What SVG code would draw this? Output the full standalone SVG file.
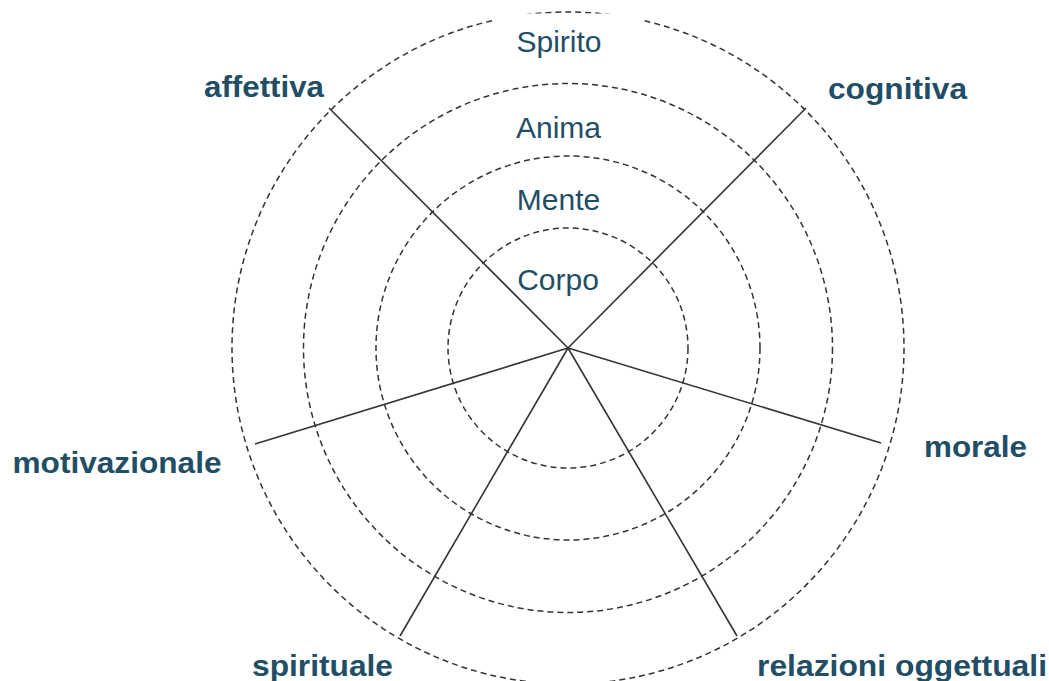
<svg xmlns="http://www.w3.org/2000/svg" width="1049" height="681" viewBox="0 0 1049 681">
<style>
.ring{fill:none;stroke:#333;stroke-width:1.5;stroke-dasharray:6 4}
.spoke{stroke:#333;stroke-width:1.6;fill:none}
.lvl{font-family:"Liberation Sans",Arial,sans-serif;font-size:30px;fill:#1f4e66;text-anchor:middle}
.dim{font-family:"Liberation Sans",Arial,sans-serif;font-size:30px;font-weight:bold;fill:#1f4e66}
</style>
<rect width="1049" height="681" fill="#fff"/>
<g id="rings">
<circle class="ring" cx="568" cy="348" r="120"/>
<circle class="ring" cx="568" cy="348" r="192"/>
<circle class="ring" cx="568" cy="348" r="264.5"/>
<circle class="ring" cx="568" cy="348" r="336"/>
</g>
<g id="connectors">
<line class="spoke" x1="568" y1="348" x2="806" y2="108"/>
<line class="spoke" x1="568" y1="348" x2="881" y2="443"/>
<line class="spoke" x1="568" y1="348" x2="737" y2="636"/>
<line class="spoke" x1="568" y1="348" x2="400" y2="636"/>
<line class="spoke" x1="568" y1="348" x2="255" y2="444"/>
<line class="spoke" x1="568" y1="348" x2="329" y2="108"/>
</g>
<g id="level-spirito">
<rect x="496" y="13.5" width="146" height="50" fill="#fff"/>
<text class="lvl" x="559" y="52">Spirito</text>
</g>
<g id="level-anima"><text class="lvl" x="558.5" y="138">Anima</text></g>
<g id="level-mente"><text class="lvl" x="558.5" y="210">Mente</text></g>
<g id="level-corpo"><text class="lvl" x="558" y="290">Corpo</text></g>
<g id="dim-affettiva"><text class="dim" x="204" y="97" textLength="120" lengthAdjust="spacingAndGlyphs">affettiva</text></g>
<g id="dim-cognitiva"><text class="dim" x="828" y="99" textLength="139" lengthAdjust="spacingAndGlyphs">cognitiva</text></g>
<g id="dim-motivazionale"><text class="dim" x="12.5" y="473" textLength="209" lengthAdjust="spacingAndGlyphs">motivazionale</text></g>
<g id="dim-morale"><text class="dim" x="924" y="457" textLength="103" lengthAdjust="spacingAndGlyphs">morale</text></g>
<g id="dim-spirituale"><text class="dim" x="252" y="676" textLength="141" lengthAdjust="spacingAndGlyphs">spirituale</text></g>
<g id="dim-relazioni"><text class="dim" x="757" y="676" textLength="290" lengthAdjust="spacingAndGlyphs">relazioni oggettuali</text></g>
</svg>
